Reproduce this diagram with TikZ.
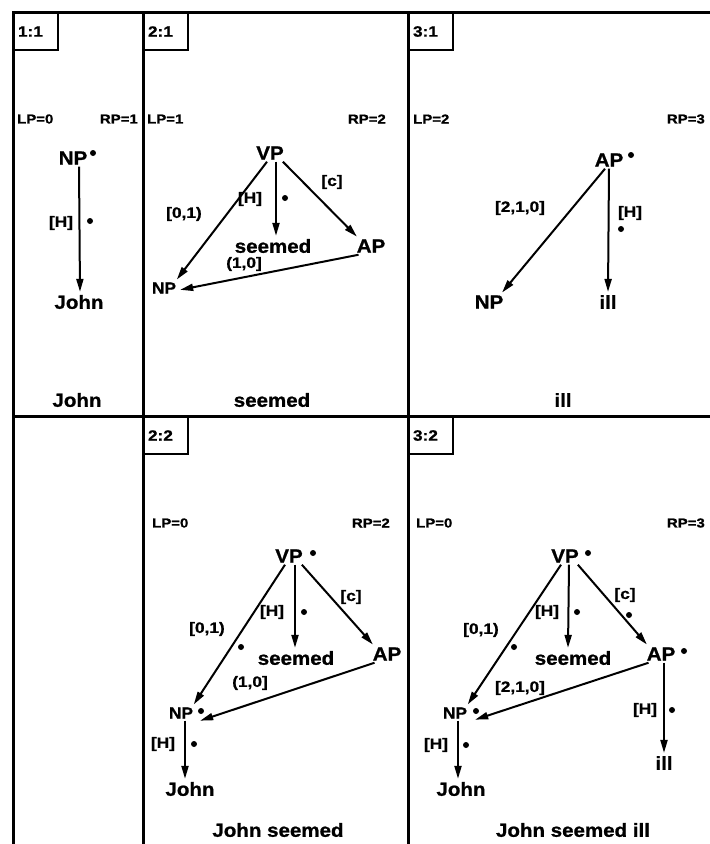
\documentclass[tikz,border=0pt]{standalone}
\usepackage{fontspec}
\setmainfont{Liberation Sans}
\newfontfamily\wideface{Liberation Sans}[FakeStretch=1.15,FakeBold=1]
\newfontfamily\midface{Liberation Sans}[FakeStretch=1.08,FakeBold=1]
\usetikzlibrary{arrows.meta}
\begin{document}
\begin{tikzpicture}[x=1pt,y=-1pt,
  frame/.style={line width=3pt},
  arr/.style={line width=2pt,-{Triangle[length=13pt,width=7pt]},shorten >=1pt},
  big/.style={font=\midface\fontsize{19}{21}\selectfont\bfseries,inner sep=2pt},
  mid/.style={font=\midface\fontsize{16}{18}\selectfont\bfseries,inner sep=2pt},
  lab/.style={font=\wideface\fontsize{15}{17}\selectfont\bfseries,inner sep=1pt},
  lprp/.style={font=\wideface\fontsize{13}{15}\selectfont\bfseries,inner sep=0pt},
  tagbox/.style={draw,line width=2pt,anchor=north west,font=\wideface\fontsize{15}{17}\selectfont\bfseries,
    text width=36pt,inner xsep=4pt,minimum height=37pt,align=left},
  dotn/.style={circle,fill,inner sep=0pt,minimum size=6pt}
]
\useasboundingbox (0,0) rectangle (710,844);
% frame
\draw[frame] (13,844) -- (13,12) -- (710,12);
\draw[frame] (143,12) -- (143,844);
\draw[frame] (408,12) -- (408,844);
\draw[frame] (13,416) -- (710,416);
% tags
\node[tagbox] (t11) at (13,12) {1:1};
\node[tagbox] (t21) at (143,12) {2:1};
\node[tagbox] (t31) at (408,12) {3:1};
\node[tagbox] (t22) at (143,416) {2:2};
\node[tagbox] (t32) at (408,416) {3:2};

% ---------- panel 1:1
\node[lprp,anchor=west] (lp1) at (17,119) {LP=0};
\node[lprp,anchor=east] (rp1) at (138,119) {RP=1};
\node[big] (np1) at (73,158) {NP};
\node[dotn] (np1d) at (93,153) {};
\node[big] (john1) at (79,302) {John};
\draw[arr] ([xshift=6pt]np1.south) -- ([xshift=1pt]john1.north);
\node[lab] (h1) at (61,223) {[H]};
\node[dotn] (h1d) at (90,221) {};
\node[big] (w1) at (77,400) {John};

% ---------- panel 2:1
\node[lprp,anchor=west] (lp2) at (147,119) {LP=1};
\node[lprp,anchor=east] (rp2) at (386,119) {RP=2};
\node[big] (vp2) at (270,153) {VP};
\node[big] (seem2) at (273,246) {seemed};
\node[big] (ap2) at (371,246) {AP};
\node[mid] (np2) at (164,288) {NP};
\draw[arr] ([xshift=-3pt]vp2.south) -- ([xshift=-2pt]np2.north east);
\draw[arr] ([xshift=6pt]vp2.south) -- ([xshift=3pt]seem2.north);
\draw[arr] ([xshift=-3pt]vp2.south east) -- ([xshift=3pt]ap2.north west);
\draw[arr] ([xshift=4pt]ap2.south west) -- ([xshift=1pt,yshift=-2pt]np2.east);
\node[lab] (e21a) at (184,214) {[0,1)};
\node[lab] (e21b) at (250,199) {[H]};
\node[dotn] (e21bd) at (285,198) {};
\node[lab] (e21c) at (332,182) {[c]};
\node[lab] (e21d) at (244,264) {(1,0]};
\node[big] (w2) at (272,400) {seemed};

% ---------- panel 3:1
\node[lprp,anchor=west] (lp3) at (413,119) {LP=2};
\node[lprp,anchor=east] (rp3) at (705,119) {RP=3};
\node[big] (ap3) at (609,160) {AP};
\node[dotn] (ap3d) at (631,155) {};
\node[big] (np3) at (489,302) {NP};
\node[big] (ill3) at (608,302) {ill};
\draw[arr] ([xshift=-4pt]ap3.south) -- ([xshift=-4pt]np3.north east);
\draw[arr] ([xshift=0pt]ap3.south) -- (ill3.north);
\node[lab] (e31a) at (520,208) {[2,1,0]};
\node[lab] (e31b) at (630,213) {[H]};
\node[dotn] (e31bd) at (621,229) {};
\node[big] (w3) at (563,400) {ill};

% ---------- panel 2:2
\node[lprp,anchor=west] (lp4) at (152,523) {LP=0};
\node[lprp,anchor=east] (rp4) at (390,523) {RP=2};
\node[big] (vp4) at (289,556) {VP};
\node[dotn] (vp4d) at (313,553) {};
\node[big] (seem4) at (296,658) {seemed};
\node[big] (ap4) at (387,654) {AP};
\node[mid] (np4) at (181,713) {NP};
\node[dotn] (np4d) at (201,711) {};
\node[big] (john4) at (190,789) {John};
\draw[arr] ([xshift=-4pt]vp4.south) -- ([xshift=-2pt]np4.north east);
\draw[arr] ([xshift=6pt]vp4.south) -- ([xshift=-1pt]seem4.north);
\draw[arr] ([xshift=-3pt]vp4.south east) -- ([xshift=3pt]ap4.north west);
\draw[arr] ([xshift=4pt]ap4.south west) -- ([xshift=4pt,yshift=-8pt]np4.east);
\draw[arr] ([xshift=4pt]np4.south) -- ([xshift=-5pt]john4.north);
\node[lab] (e22a) at (207,629) {[0,1)};
\node[dotn] (e22ad) at (241,647) {};
\node[lab] (e22b) at (272,612) {[H]};
\node[dotn] (e22bd) at (304,612) {};
\node[lab] (e22c) at (351,597) {[c]};
\node[lab] (e22d) at (250,683) {(1,0]};
\node[lab] (e22e) at (163,744) {[H]};
\node[dotn] (e22ed) at (194,744) {};
\node[big] (w4) at (278,830) {John seemed};

% ---------- panel 3:2
\node[lprp,anchor=west] (lp5) at (416,523) {LP=0};
\node[lprp,anchor=east] (rp5) at (705,523) {RP=3};
\node[big] (vp5) at (565,556) {VP};
\node[dotn] (vp5d) at (588,553) {};
\node[big] (seem5) at (573,658) {seemed};
\node[big] (ap5) at (661,654) {AP};
\node[dotn] (ap5d) at (684,651) {};
\node[mid] (np5) at (455,713) {NP};
\node[dotn] (np5d) at (476,711) {};
\node[big] (john5) at (461,789) {John};
\node[big] (ill5) at (664,763) {ill};
\draw[arr] ([xshift=-4pt]vp5.south) -- ([xshift=-2pt]np5.north east);
\draw[arr] ([xshift=4pt]vp5.south) -- ([xshift=-5pt]seem5.north);
\draw[arr] ([xshift=-3pt]vp5.south east) -- ([xshift=3pt]ap5.north west);
\draw[arr] ([xshift=4pt]ap5.south west) -- ([xshift=5pt,yshift=-7pt]np5.east);
\draw[arr] ([xshift=3pt]np5.south) -- ([xshift=-3pt]john5.north);
\draw[arr] ([xshift=3pt]ap5.south) -- (ill5.north);
\node[lab] (e32a) at (481,630) {[0,1)};
\node[dotn] (e32ad) at (514,647) {};
\node[lab] (e32b) at (547,612) {[H]};
\node[dotn] (e32bd) at (577,612) {};
\node[lab] (e32c) at (625,595) {[c]};
\node[dotn] (e32cd) at (629,615) {};
\node[lab] (e32d) at (520,688) {[2,1,0]};
\node[lab] (e32e) at (436,745) {[H]};
\node[dotn] (e32ed) at (466,745) {};
\node[lab] (e32f) at (645,710) {[H]};
\node[dotn] (e32fd) at (672,710) {};
\node[big] (w5) at (573,830) {John seemed ill};
\end{tikzpicture}
\end{document}
